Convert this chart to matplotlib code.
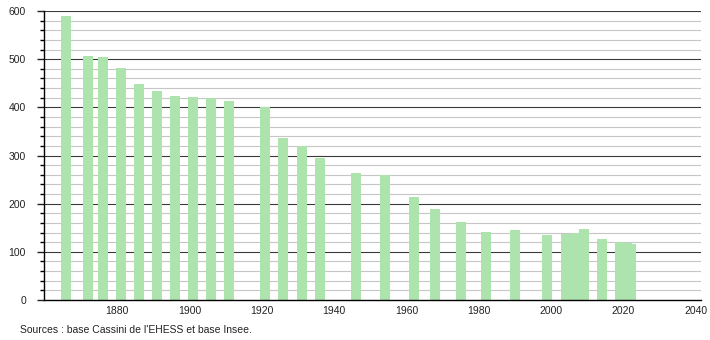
import matplotlib
matplotlib.use("Agg")
import matplotlib.pyplot as plt
from matplotlib.ticker import MultipleLocator

plt.rcParams['font.family'] = ['Liberation Sans', 'DejaVu Sans']

# census years and population
years = [1866, 1872, 1876, 1881, 1886, 1891, 1896, 1901, 1906, 1911,
         1921, 1926, 1931, 1936, 1946, 1954, 1962, 1968, 1975, 1982,
         1990, 1999, 2004, 2006, 2007, 2008, 2009, 2014, 2019, 2021, 2022]
population = [589, 506, 504, 481, 448, 434, 423, 421, 420, 413,
              400, 336, 319, 295, 264, 259, 214, 189, 162, 141,
              145, 135, 138, 138, 139, 139, 147, 127, 120, 119, 116]

x_ticks = [1880, 1900, 1920, 1940, 1960, 1980, 2000, 2020, 2040]
source_text = "Sources : base Cassini de l'EHESS et base Insee."

fig = plt.figure(figsize=(7.1, 3.4), dpi=100)
ax = fig.add_axes([0.062, 0.1176, 0.925, 0.85])

# grid: light every 20, dark every 100
for v in range(20, 601, 20):
    if v % 100 == 0:
        ax.axhline(v, color='#3a3a3a', lw=0.8, zorder=1)
    else:
        ax.axhline(v, color='#c6c6c6', lw=0.8, zorder=1)

ax.bar(years, population, width=2.77, color='#ade3ad', zorder=2)

ax.set_xlim(1859.8, 2041.4)
ax.set_ylim(0, 600)
ax.set_xticks(x_ticks)
ax.yaxis.set_major_locator(MultipleLocator(100))
ax.yaxis.set_minor_locator(MultipleLocator(20))

for s in ['top', 'right']:
    ax.spines[s].set_visible(False)
ax.spines['left'].set_linewidth(1.0)
ax.spines['bottom'].set_linewidth(1.0)

ax.tick_params(axis='x', length=0, pad=4, labelsize=7.5, colors='#222222')
ax.tick_params(axis='y', which='major', length=5, width=1, labelsize=7.5,
               pad=8, colors='#222222')
ax.tick_params(axis='y', which='minor', length=3, width=1)

fig.text(0.028, 0.03, source_text, fontsize=7.5, color='#222222',
         ha='left', va='center')

fig.savefig('out.png', dpi=100)
